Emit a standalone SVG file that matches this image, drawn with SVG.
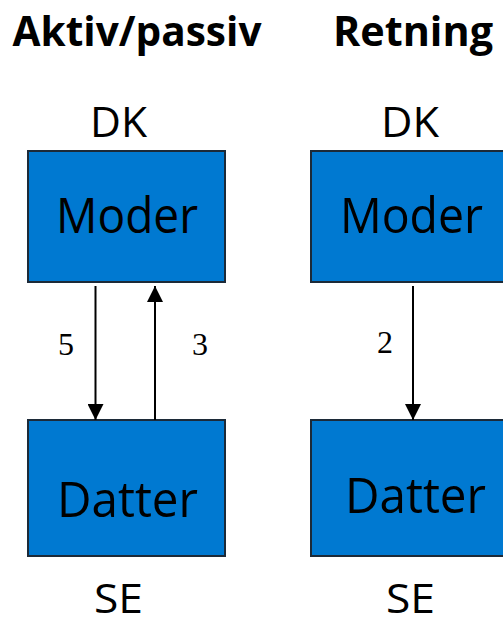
<svg xmlns="http://www.w3.org/2000/svg" width="503" height="625" viewBox="0 0 503 625">
<defs>
<marker id="ah" markerWidth="16" markerHeight="16" viewBox="0 0 16 16" refX="16" refY="8" orient="auto" markerUnits="userSpaceOnUse">
<path d="M0,0 L16,8 L0,16 Z" fill="#000"/>
</marker>
</defs>
<style>
.box{fill:#0079D1;stroke:#1c2a38;stroke-width:2}
.t{font-family:"Open Sans","Noto Sans",sans-serif;fill:#000;text-anchor:middle}
.h{font-weight:bold;font-size:42px}
.lbl{font-size:42px}
.se{font-size:40px}
.name{font-size:50px}
.num{font-family:"Liberation Serif",serif;font-size:32px;text-anchor:middle;fill:#000}
.c{stroke:#000;stroke-width:2;fill:none;marker-end:url(#ah)}
</style>
<rect width="503" height="625" fill="#fff"/>
<text class="t h" x="137" y="46" textLength="249" lengthAdjust="spacingAndGlyphs">Aktiv/passiv</text>
<text class="t h" x="413" y="46" textLength="160" lengthAdjust="spacingAndGlyphs">Retning</text>
<text class="t lbl" x="118.5" y="137" textLength="57" lengthAdjust="spacingAndGlyphs">DK</text>
<text class="t lbl" x="410" y="137" textLength="58" lengthAdjust="spacingAndGlyphs">DK</text>
<text class="t se" x="118.5" y="613" textLength="49" lengthAdjust="spacingAndGlyphs">SE</text>
<text class="t se" x="410.5" y="613" textLength="49" lengthAdjust="spacingAndGlyphs">SE</text>
<g id="moder1">
<rect class="box" x="28" y="151" width="197" height="131"/>
<text class="t name" x="127" y="233" textLength="142" lengthAdjust="spacingAndGlyphs">Moder</text>
</g>
<g id="moder2">
<rect class="box" x="311" y="151" width="197" height="131"/>
<text class="t name" x="411.5" y="233" textLength="143" lengthAdjust="spacingAndGlyphs">Moder</text>
</g>
<g id="datter1">
<rect class="box" x="28" y="420" width="197" height="136"/>
<text class="t name" x="127.5" y="517" textLength="141" lengthAdjust="spacingAndGlyphs">Datter</text>
</g>
<g id="datter2">
<rect class="box" x="311" y="420" width="197" height="136"/>
<text class="t name" x="415.5" y="513" textLength="141" lengthAdjust="spacingAndGlyphs">Datter</text>
</g>
<g id="connectors">
<line class="c" x1="95.5" y1="286" x2="95.5" y2="420"/>
<line class="c" x1="155" y1="420" x2="155" y2="286"/>
<line class="c" x1="413" y1="286" x2="413" y2="420"/>
<text class="num" x="66" y="355">5</text>
<text class="num" x="200" y="355">3</text>
<text class="num" x="385" y="353">2</text>
</g>
</svg>
